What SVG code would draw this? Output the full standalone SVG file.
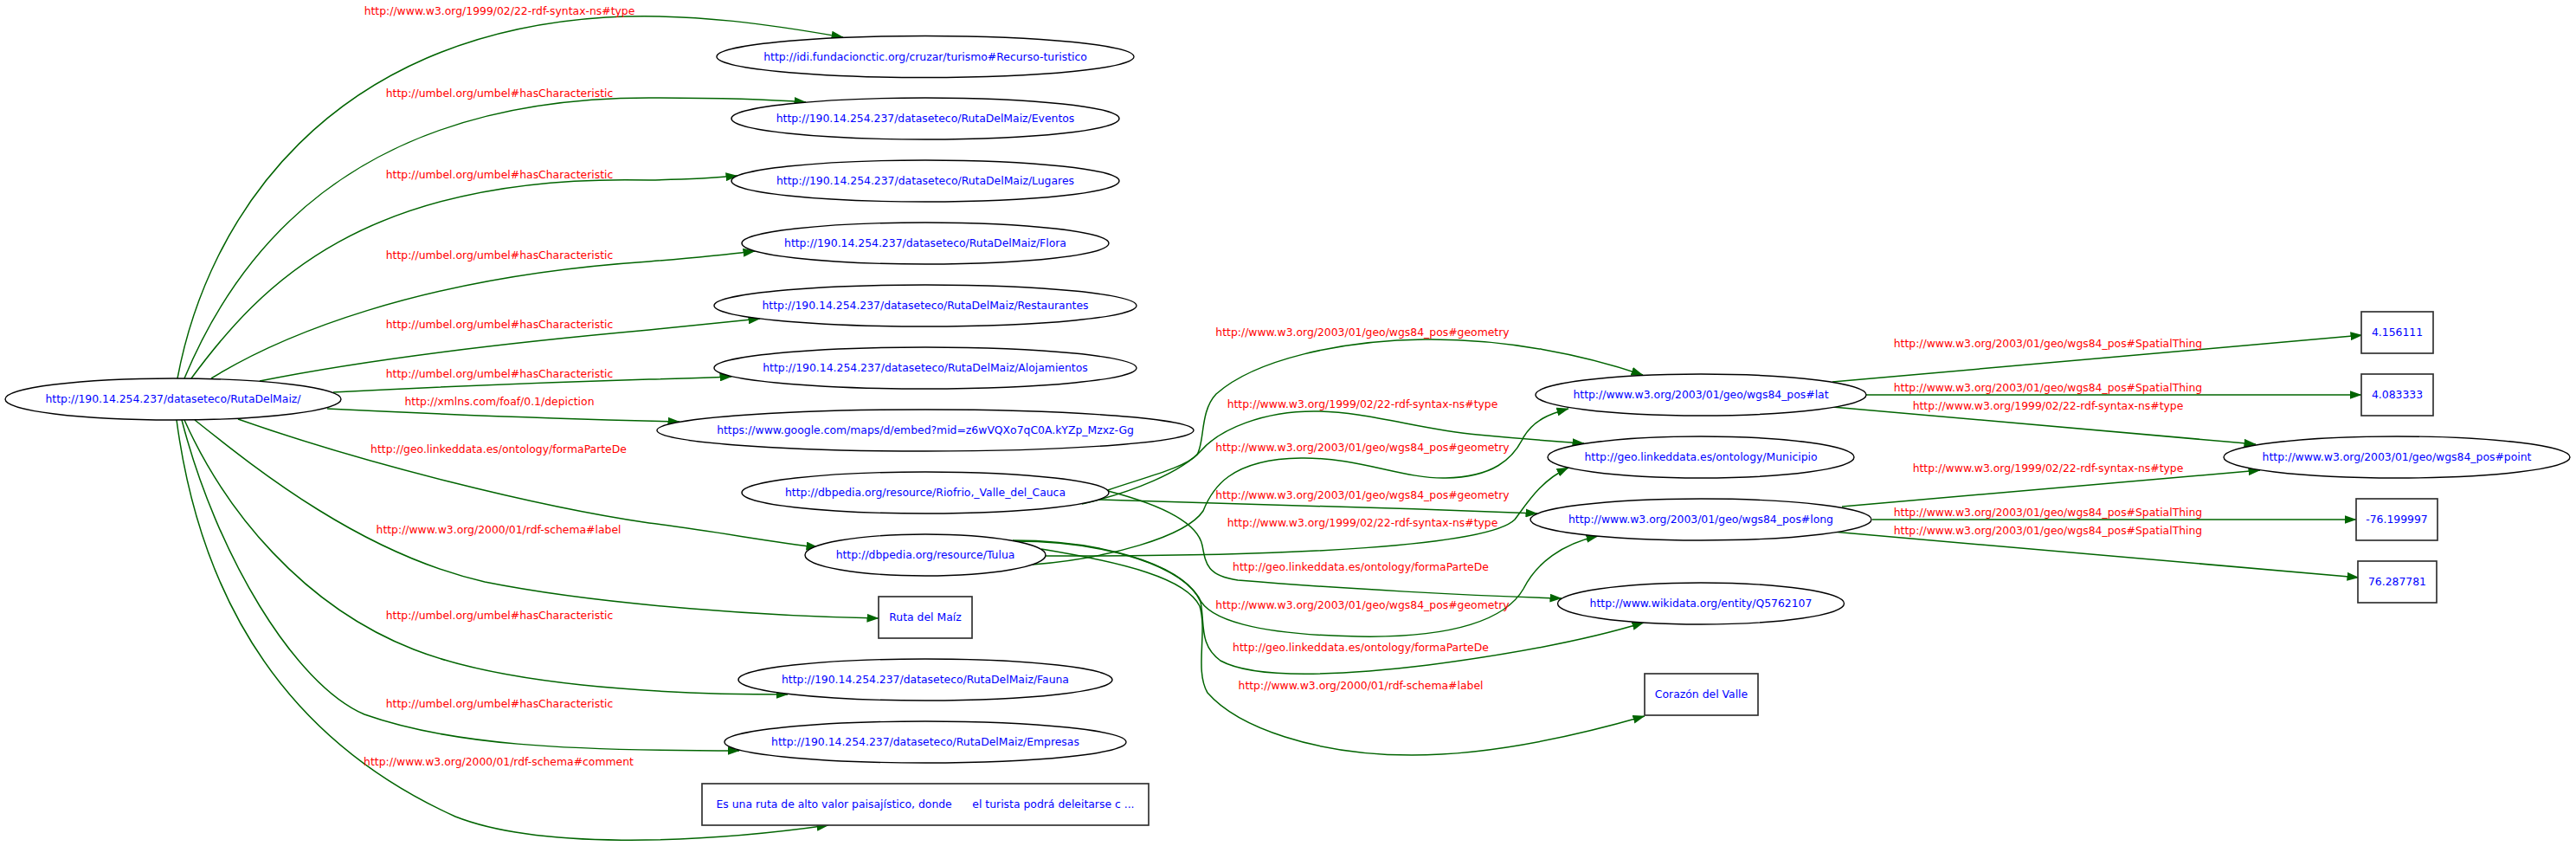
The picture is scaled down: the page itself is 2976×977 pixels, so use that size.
<svg xmlns="http://www.w3.org/2000/svg" width="2976" height="977" viewBox="0 0 2976 977">
<defs>
<style>
.nd ellipse,.nd rect{fill:#ffffff;stroke:#000000;stroke-width:1.4}
.nd rect{stroke:#333333;stroke-width:1.7}
.nt{font-family:"DejaVu Sans",sans-serif;font-size:12.4px;fill:#0000ff;text-anchor:middle}
.el{font-family:"DejaVu Sans",sans-serif;font-size:12.4px;fill:#ff0000;text-anchor:middle}
.ed path{fill:none;stroke:#006400;stroke-width:1.5;marker-end:url(#ah)}
</style>
<marker id="ah" viewBox="0 0 14 10" refX="13.5" refY="5" markerWidth="14" markerHeight="10" markerUnits="userSpaceOnUse" orient="auto">
<path d="M0,0 L14,5 L0,10 z" fill="#006400"/>
</marker>
</defs>
<rect x="0" y="0" width="2976" height="977" fill="#ffffff"/>
<g id="edges" class="ed">
<path d="M205,437 C240,250 380,40 700,20 C800,14 900,30 974,43"/>
<path d="M213,437 C270,300 400,113 750,113 C830,113 890,115 931,118"/>
<path d="M221,437 C300,330 420,200 750,208 C800,207 830,205 852,203"/>
<path d="M244,437 C320,390 480,320 750,302 C800,298 840,294 872,290"/>
<path d="M300,440 C450,410 650,390 750,381 C800,376 840,372 878,368"/>
<path d="M385,453 C500,447 650,441 750,438 C800,437 820,436 845,435"/>
<path d="M378,472 C500,478 650,484 785,487"/>
<path d="M275,484 C420,535 620,585 750,604 C830,614 890,626 945,632"/>
<path d="M225,485 C300,545 420,640 560,672 C700,700 900,712 1015,714"/>
<path d="M213,485 C260,590 350,700 478,750 C580,790 750,802 910,802"/>
<path d="M210,485 C250,640 340,790 421,825 C520,860 650,867 854,867"/>
<path d="M204,485 C230,680 320,850 526,943 C620,980 800,975 957,953"/>
<path d="M1280,566 C1320,552 1370,540 1383,525 C1392,510 1386,475 1405,455 C1450,415 1550,393 1646,392 C1740,391 1830,410 1898,433"/>
<path d="M1250,582 C1310,568 1365,545 1388,520 C1410,495 1460,475 1518,475 C1580,475 1640,496 1707,502 C1760,507 1800,510 1830,512"/>
<path d="M1267,577 C1400,581 1600,586 1776,593"/>
<path d="M1280,567 C1330,580 1383,600 1389,630 C1393,652 1395,665 1430,670 C1550,680 1700,688 1804,691"/>
<path d="M1193,652 C1280,645 1370,620 1390,590 C1400,565 1420,530 1503,529 C1570,528 1620,553 1670,552 C1725,551 1748,530 1760,505 C1772,485 1790,478 1812,472"/>
<path d="M1208,642 C1500,643 1720,630 1750,600 C1765,580 1780,555 1812,540"/>
<path d="M1170,624 C1270,624 1360,650 1385,690 C1395,715 1450,733 1569,735 C1680,737 1740,715 1760,680 C1775,650 1805,628 1846,619"/>
<path d="M1172,625 C1280,625 1370,655 1387,695 C1392,720 1385,745 1410,763 C1450,785 1550,780 1650,768 C1750,755 1830,740 1899,719"/>
<path d="M1203,634 C1300,650 1370,668 1386,700 C1395,730 1380,775 1395,800 C1430,840 1520,872 1631,872 C1720,872 1820,850 1900,827"/>
<path d="M2117,441 L2729,387"/>
<path d="M2156,456 L2728,456"/>
<path d="M2117,470 L2606,513"/>
<path d="M2128,585 L2611,543"/>
<path d="M2163,600 L2722,600"/>
<path d="M2117,614 L2725,667"/>
</g>
<g id="edge-labels">
<text class="el" x="577" y="17">http://www.w3.org/1999/02/22-rdf-syntax-ns#type</text>
<text class="el" x="577" y="112">http://umbel.org/umbel#hasCharacteristic</text>
<text class="el" x="577" y="206">http://umbel.org/umbel#hasCharacteristic</text>
<text class="el" x="577" y="299">http://umbel.org/umbel#hasCharacteristic</text>
<text class="el" x="577" y="379">http://umbel.org/umbel#hasCharacteristic</text>
<text class="el" x="577" y="436">http://umbel.org/umbel#hasCharacteristic</text>
<text class="el" x="577" y="468">http://xmlns.com/foaf/0.1/depiction</text>
<text class="el" x="576" y="523">http://geo.linkeddata.es/ontology/formaParteDe</text>
<text class="el" x="576" y="616">http://www.w3.org/2000/01/rdf-schema#label</text>
<text class="el" x="577" y="715">http://umbel.org/umbel#hasCharacteristic</text>
<text class="el" x="577" y="817">http://umbel.org/umbel#hasCharacteristic</text>
<text class="el" x="576" y="884">http://www.w3.org/2000/01/rdf-schema#comment</text>
<text class="el" x="1574" y="388">http://www.w3.org/2003/01/geo/wgs84_pos#geometry</text>
<text class="el" x="1574" y="471">http://www.w3.org/1999/02/22-rdf-syntax-ns#type</text>
<text class="el" x="1574" y="521">http://www.w3.org/2003/01/geo/wgs84_pos#geometry</text>
<text class="el" x="1574" y="576">http://www.w3.org/2003/01/geo/wgs84_pos#geometry</text>
<text class="el" x="1574" y="608">http://www.w3.org/1999/02/22-rdf-syntax-ns#type</text>
<text class="el" x="1572" y="659">http://geo.linkeddata.es/ontology/formaParteDe</text>
<text class="el" x="1574" y="703">http://www.w3.org/2003/01/geo/wgs84_pos#geometry</text>
<text class="el" x="1572" y="752">http://geo.linkeddata.es/ontology/formaParteDe</text>
<text class="el" x="1572" y="796">http://www.w3.org/2000/01/rdf-schema#label</text>
<text class="el" x="2366" y="401">http://www.w3.org/2003/01/geo/wgs84_pos#SpatialThing</text>
<text class="el" x="2366" y="452">http://www.w3.org/2003/01/geo/wgs84_pos#SpatialThing</text>
<text class="el" x="2366" y="473">http://www.w3.org/1999/02/22-rdf-syntax-ns#type</text>
<text class="el" x="2366" y="545">http://www.w3.org/1999/02/22-rdf-syntax-ns#type</text>
<text class="el" x="2366" y="596">http://www.w3.org/2003/01/geo/wgs84_pos#SpatialThing</text>
<text class="el" x="2366" y="617">http://www.w3.org/2003/01/geo/wgs84_pos#SpatialThing</text>
</g>
<g id="n-main" class="nd"><ellipse cx="200" cy="461" rx="194" ry="24"/><text class="nt" x="200" y="465.3">http://190.14.254.237/dataseteco/RutaDelMaiz/</text></g>
<g id="n-recurso" class="nd"><ellipse cx="1069" cy="65.5" rx="241" ry="24"/><text class="nt" x="1069" y="69.8">http://idi.fundacionctic.org/cruzar/turismo#Recurso-turistico</text></g>
<g id="n-eventos" class="nd"><ellipse cx="1069" cy="137" rx="224" ry="24"/><text class="nt" x="1069" y="141.3">http://190.14.254.237/dataseteco/RutaDelMaiz/Eventos</text></g>
<g id="n-lugares" class="nd"><ellipse cx="1069" cy="209" rx="224" ry="24"/><text class="nt" x="1069" y="213.3">http://190.14.254.237/dataseteco/RutaDelMaiz/Lugares</text></g>
<g id="n-flora" class="nd"><ellipse cx="1069" cy="281" rx="212" ry="24"/><text class="nt" x="1069" y="285.3">http://190.14.254.237/dataseteco/RutaDelMaiz/Flora</text></g>
<g id="n-restaurantes" class="nd"><ellipse cx="1069" cy="353" rx="244" ry="24"/><text class="nt" x="1069" y="357.3">http://190.14.254.237/dataseteco/RutaDelMaiz/Restaurantes</text></g>
<g id="n-alojamientos" class="nd"><ellipse cx="1069" cy="425" rx="244" ry="24"/><text class="nt" x="1069" y="429.3">http://190.14.254.237/dataseteco/RutaDelMaiz/Alojamientos</text></g>
<g id="n-google" class="nd"><ellipse cx="1069" cy="497" rx="310" ry="24"/><text class="nt" x="1069" y="501.3">https://www.google.com/maps/d/embed?mid=z6wVQXo7qC0A.kYZp_Mzxz-Gg</text></g>
<g id="n-riofrio" class="nd"><ellipse cx="1069" cy="569" rx="212" ry="24"/><text class="nt" x="1069" y="573.3">http://dbpedia.org/resource/Riofrio,_Valle_del_Cauca</text></g>
<g id="n-tulua" class="nd"><ellipse cx="1069" cy="641" rx="139" ry="24"/><text class="nt" x="1069" y="645.3">http://dbpedia.org/resource/Tulua</text></g>
<g id="n-rutadelmaiz" class="nd"><rect x="1015" y="689" width="108" height="48"/><text class="nt" x="1069" y="717.3">Ruta del Maíz</text></g>
<g id="n-fauna" class="nd"><ellipse cx="1069" cy="785" rx="216" ry="24"/><text class="nt" x="1069" y="789.3">http://190.14.254.237/dataseteco/RutaDelMaiz/Fauna</text></g>
<g id="n-empresas" class="nd"><ellipse cx="1069" cy="857" rx="232" ry="24"/><text class="nt" x="1069" y="861.3">http://190.14.254.237/dataseteco/RutaDelMaiz/Empresas</text></g>
<g id="n-comment" class="nd"><rect x="811" y="905" width="516" height="48"/><text class="nt" x="1069" y="933.3" xml:space="preserve">Es una ruta de alto valor paisajístico, donde      el turista podrá deleitarse c ...</text></g>
<g id="n-lat" class="nd"><ellipse cx="1965" cy="456" rx="191" ry="24"/><text class="nt" x="1965" y="460.3">http://www.w3.org/2003/01/geo/wgs84_pos#lat</text></g>
<g id="n-municipio" class="nd"><ellipse cx="1965" cy="528" rx="177" ry="24"/><text class="nt" x="1965" y="532.3">http://geo.linkeddata.es/ontology/Municipio</text></g>
<g id="n-long" class="nd"><ellipse cx="1965" cy="600" rx="197" ry="24"/><text class="nt" x="1965" y="604.3">http://www.w3.org/2003/01/geo/wgs84_pos#long</text></g>
<g id="n-wikidata" class="nd"><ellipse cx="1965" cy="697" rx="165.5" ry="24"/><text class="nt" x="1965" y="701.3">http://www.wikidata.org/entity/Q5762107</text></g>
<g id="n-corazon" class="nd"><rect x="1900" y="778" width="131" height="48"/><text class="nt" x="1965.5" y="806.3">Corazón del Valle</text></g>
<g id="n-lat-val1" class="nd"><rect x="2728" y="360" width="83" height="48"/><text class="nt" x="2769.5" y="388.3">4.156111</text></g>
<g id="n-lat-val2" class="nd"><rect x="2728" y="432" width="83" height="48"/><text class="nt" x="2769.5" y="460.3">4.083333</text></g>
<g id="n-point" class="nd"><ellipse cx="2769" cy="528" rx="200" ry="24"/><text class="nt" x="2769" y="532.3">http://www.w3.org/2003/01/geo/wgs84_pos#point</text></g>
<g id="n-long-val1" class="nd"><rect x="2722" y="576" width="94" height="48"/><text class="nt" x="2769" y="604.3">-76.199997</text></g>
<g id="n-long-val2" class="nd"><rect x="2724" y="648" width="91" height="48"/><text class="nt" x="2769.5" y="676.3">76.287781</text></g>
</svg>
